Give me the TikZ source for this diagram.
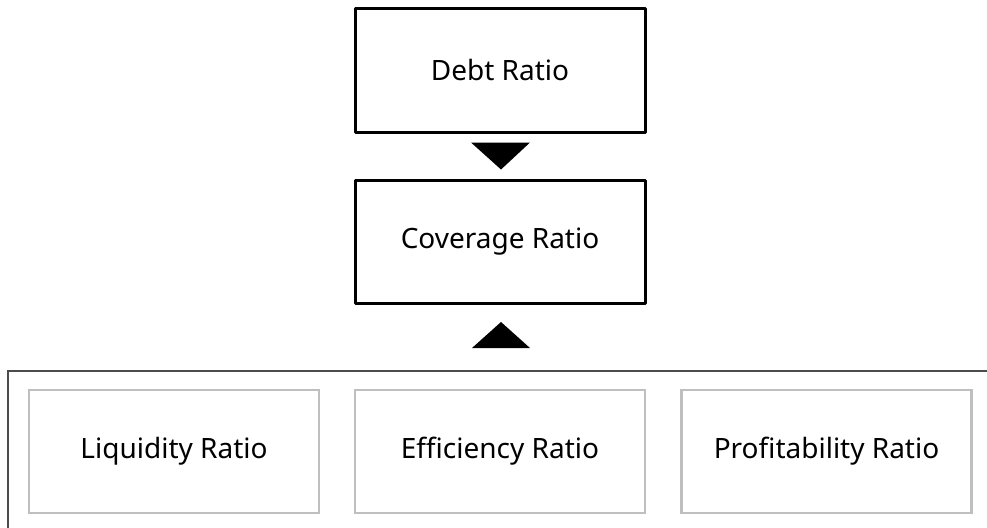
\documentclass[tikz,border=0pt]{standalone}
\usepackage{fontspec}
\newfontfamily\ratiofont{Noto Sans}
\usetikzlibrary{calc}

\begin{document}
\begin{tikzpicture}[x=1pt, y=-1pt,
    every node/.style={font=\ratiofont\fontsize{28}{32}\selectfont},
    mainbox/.style={draw=black, line width=3pt, line join=round, minimum width=290pt, minimum height=123pt},
    subbox/.style={draw=black!25, line width=2.2pt, minimum width=290pt, minimum height=123pt},
    tri/.style={fill=black}]
  \useasboundingbox (0,0) rectangle (987,527);

  \node[mainbox] at (500,70.5) (debt) {Debt Ratio};
  \node[mainbox] at (500,241.5) (cover) {Coverage Ratio};

  % frame round the three ratio groups
  \draw[black!70, line width=1.2pt] (995,371) -- (8,371) -- (8,540);
  \coordinate (frame) at (501,371);

  \node[subbox] at (174,451.5) (liq) {Liquidity Ratio};
  \node[subbox] at (500,451.5) (eff) {Efficiency Ratio};
  \node[subbox] at (826.5,451.5) (prof) {Profitability Ratio};

  \fill[tri] ($(debt.south)+(-29,9)$) -- ($(debt.south)+(30,9)$) -- ($(debt.south)+(1,36)$) -- cycle;
  \fill[tri] ($(frame)+(-29,-23)$) -- ($(frame)+(29,-23)$) -- ($(frame)+(0,-49)$) -- cycle;
\end{tikzpicture}
\end{document}
